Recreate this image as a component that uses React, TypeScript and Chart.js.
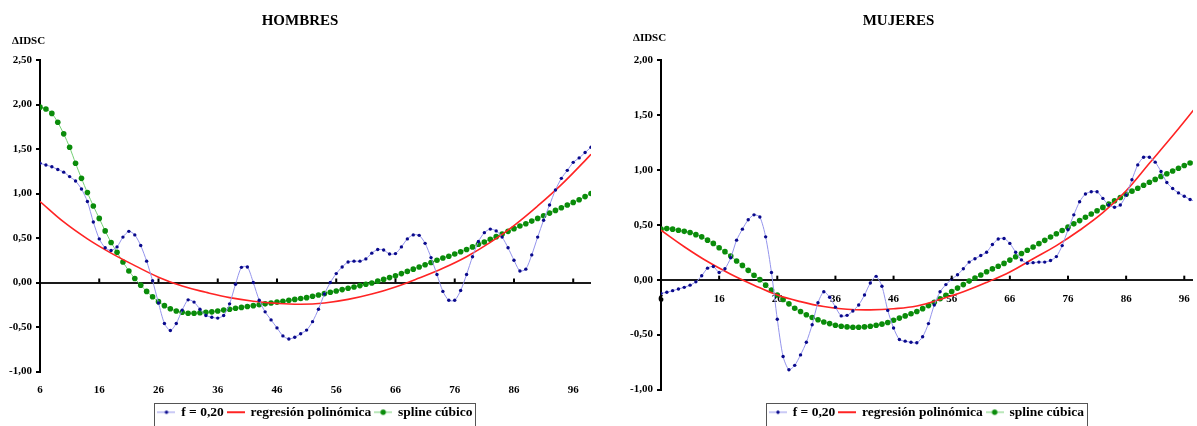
import React, { useEffect, useRef } from 'react';
import { Chart, registerables } from 'chart.js';

Chart.register(...registerables);

const SERIF = "'Liberation Serif', 'Times New Roman', serif";

// ---------- data ----------
const FIRST_AGE = 6;

// HOMBRES
const H_BLUE = [
  1.34, 1.32, 1.30, 1.27, 1.24, 1.19, 1.14, 1.05, 0.91, 0.68,
  0.49, 0.39, 0.36, 0.40, 0.51, 0.575, 0.535, 0.415, 0.24, 0.02,
  -0.23, -0.46, -0.54, -0.46, -0.31, -0.195, -0.22, -0.30, -0.37, -0.39,
  -0.40, -0.37, -0.24, -0.02, 0.17, 0.175, 0.0, -0.20, -0.33, -0.42,
  -0.51, -0.60, -0.635, -0.615, -0.575, -0.535, -0.44, -0.30, -0.13, 0.0,
  0.10, 0.175, 0.23, 0.24, 0.24, 0.265, 0.33, 0.37, 0.365, 0.32,
  0.325, 0.40, 0.49, 0.535, 0.53, 0.44, 0.28, 0.09, -0.10, -0.20,
  -0.20, -0.09, 0.09, 0.29, 0.46, 0.56, 0.60, 0.58, 0.51, 0.39,
  0.25, 0.13, 0.15, 0.31, 0.51, 0.70, 0.87, 1.04, 1.17, 1.26,
  1.35, 1.40, 1.46, 1.52,
];
const H_GREEN = [
  1.97, 1.95, 1.90, 1.80, 1.67, 1.52, 1.34, 1.17, 1.01, 0.86,
  0.72, 0.58, 0.45, 0.34, 0.23, 0.13, 0.045, -0.03, -0.10, -0.16,
  -0.215, -0.26, -0.295, -0.32, -0.335, -0.345, -0.345, -0.34, -0.335, -0.33,
  -0.32, -0.31, -0.30, -0.29, -0.28, -0.27, -0.26, -0.25, -0.24, -0.23,
  -0.22, -0.21, -0.20, -0.19, -0.18, -0.17, -0.155, -0.14, -0.125, -0.11,
  -0.095, -0.08, -0.065, -0.05, -0.035, -0.02, -0.005, 0.015, 0.035, 0.055,
  0.075, 0.10, 0.125, 0.15, 0.175, 0.20, 0.225, 0.25, 0.275, 0.295,
  0.32, 0.345, 0.37, 0.40, 0.43, 0.455, 0.485, 0.515, 0.545, 0.575,
  0.605, 0.635, 0.66, 0.69, 0.72, 0.75, 0.78, 0.81, 0.84, 0.87,
  0.90, 0.93, 0.965, 1.0,
];
const H_RED_AGES = [6, 10, 14, 18, 22, 26, 30, 34, 38, 42, 46, 50, 54, 58, 62, 66, 70, 74, 78, 82, 86, 90, 94, 98, 99];
const H_RED = [0.91, 0.68, 0.49, 0.33, 0.19, 0.06, -0.04, -0.11, -0.17, -0.21, -0.235, -0.245, -0.23, -0.19, -0.13, -0.05, 0.05, 0.16, 0.29, 0.45, 0.64, 0.86, 1.1, 1.37, 1.44];

// MUJERES
const M_BLUE = [
  -0.125, -0.115, -0.10, -0.085, -0.07, -0.05, -0.02, 0.035, 0.105, 0.12,
  0.065, 0.10, 0.20, 0.36, 0.46, 0.545, 0.59, 0.57, 0.39, 0.065,
  -0.36, -0.70, -0.82, -0.78, -0.685, -0.57, -0.41, -0.21, -0.11, -0.16,
  -0.25, -0.33, -0.325, -0.285, -0.23, -0.14, -0.03, 0.03, -0.06, -0.28,
  -0.44, -0.545, -0.56, -0.57, -0.575, -0.52, -0.40, -0.23, -0.11, -0.045,
  0.005, 0.045, 0.10, 0.16, 0.19, 0.22, 0.25, 0.32, 0.37, 0.375,
  0.33, 0.25, 0.18, 0.15, 0.155, 0.16, 0.16, 0.175, 0.21, 0.31,
  0.455, 0.59, 0.71, 0.78, 0.80, 0.80, 0.74, 0.68, 0.66, 0.68,
  0.77, 0.91, 1.045, 1.115, 1.115, 1.07, 0.985, 0.885, 0.83, 0.79,
  0.76, 0.73, 0.71,
];
const M_GREEN = [
  0.46, 0.465, 0.46, 0.45, 0.44, 0.43, 0.41, 0.39, 0.36, 0.33,
  0.29, 0.255, 0.215, 0.17, 0.13, 0.085, 0.04, 0.0, -0.05, -0.095,
  -0.14, -0.18, -0.22, -0.26, -0.29, -0.32, -0.345, -0.365, -0.385, -0.40,
  -0.415, -0.424, -0.43, -0.433, -0.433, -0.43, -0.424, -0.415, -0.405, -0.39,
  -0.37, -0.35, -0.33, -0.31, -0.29, -0.264, -0.236, -0.205, -0.174, -0.142,
  -0.108, -0.077, -0.045, -0.013, 0.015, 0.043, 0.072, 0.098, 0.122, 0.148,
  0.178, 0.208, 0.238, 0.268, 0.298, 0.328, 0.358, 0.388, 0.418, 0.448,
  0.478, 0.508, 0.538, 0.568, 0.598, 0.628, 0.658, 0.688, 0.718, 0.748,
  0.778, 0.806, 0.833, 0.86, 0.887, 0.913, 0.94, 0.965, 0.99, 1.015,
  1.04, 1.062, 1.085,
];
const M_RED_AGES = [6, 10, 14, 18, 22, 26, 30, 34, 38, 42, 46, 50, 54, 58, 62, 66, 70, 74, 78, 82, 86, 90, 94, 98];
const M_RED = [0.45, 0.30, 0.165, 0.05, -0.05, -0.14, -0.20, -0.245, -0.27, -0.275, -0.265, -0.24, -0.18, -0.11, -0.025, 0.07, 0.19, 0.31, 0.45, 0.61, 0.81, 1.06, 1.31, 1.57];

const X_TICKS = [6, 16, 26, 36, 46, 56, 66, 76, 86, 96];
const Y_TICKS_H = [-1, -0.5, 0, 0.5, 1, 1.5, 2, 2.5];
const Y_TICKS_M = [-1, -0.5, 0, 0.5, 1, 1.5, 2];

const LEGEND_H = ['f = 0,20', 'regresión polinómica', 'spline cúbico'];
const LEGEND_M = ['f = 0,20', 'regresión polinómica', 'spline cúbica'];
const TITLE_H = 'HOMBRES';
const TITLE_M = 'MUJERES';
const Y_LABEL = 'ΔIDSC';

// ---------- styles ----------
const BLUE_LINE = '#9494ec';
const BLUE_DOT = '#0a0a8c';
const RED = '#ff2424';
const GREEN_LINE = '#74cf74';
const GREEN_DOT = '#0a8c0a';

type Spec = {
  title: string;
  blue: number[];
  green: number[];
  redAges: number[];
  red: number[];
  legend: string[];
  yTicks: number[];
  yMin: number;
  yMax: number;
  xMax: number;
  yAxisWidth: number;
  padRight: number;
  xAtZero: boolean;
  xLabelOffset: number;
  titleY: number;
  yLabelY: number;
};

const HOMBRES: Spec = {
  title: TITLE_H, blue: H_BLUE, green: H_GREEN, redAges: H_RED_AGES, red: H_RED,
  legend: LEGEND_H, yTicks: Y_TICKS_H, yMin: -1, yMax: 2.5, xMax: 99,
  yAxisWidth: 40, padRight: 9, xAtZero: false, xLabelOffset: 12, titleY: 21, yLabelY: 41,
};
const MUJERES: Spec = {
  title: TITLE_M, blue: M_BLUE, green: M_GREEN, redAges: M_RED_AGES, red: M_RED,
  legend: LEGEND_M, yTicks: Y_TICKS_M, yMin: -1, yMax: 2, xMax: 97.5,
  yAxisWidth: 61, padRight: 0, xAtZero: true, xLabelOffset: 13, titleY: 21, yLabelY: 38,
};

function makeMarker(line: string, lw: number, dot: string | null, r: number) {
  const c = document.createElement('canvas');
  c.width = 18;
  c.height = 8;
  const g = c.getContext('2d')!;
  g.strokeStyle = line;
  g.lineWidth = lw;
  g.beginPath();
  g.moveTo(0, 4);
  g.lineTo(18, 4);
  g.stroke();
  if (dot) {
    g.fillStyle = dot;
    g.beginPath();
    g.arc(9, 4, r, 0, Math.PI * 2);
    g.fill();
  }
  return c;
}

const headerPlugin = {
  id: 'header',
  afterDraw(chart: any, _args: any, opts: any) {
    const { ctx, chartArea } = chart;
    ctx.save();
    ctx.fillStyle = '#000';
    ctx.textBaseline = 'middle';
    ctx.textAlign = 'center';
    ctx.font = `bold 15px ${SERIF}`;
    ctx.fillText(opts.title, chart.width / 2, opts.titleY);
    ctx.textAlign = 'left';
    ctx.font = `bold 11px ${SERIF}`;
    ctx.fillText(opts.yLabel, chartArea.left - 28, opts.yLabelY);

    // small tick marks on the zero line
    const xs = chart.scales.x;
    const ys = chart.scales.y;
    const zy = ys.getPixelForValue(0);
    ctx.strokeStyle = '#000';
    ctx.lineWidth = 2;
    (opts.marks as number[]).forEach((t) => {
      const px = xs.getPixelForValue(t);
      if (px > chartArea.left + 2 && px <= chartArea.right) {
        ctx.beginPath();
        ctx.moveTo(px, zy - 4);
        ctx.lineTo(px, zy);
        ctx.stroke();
      }
    });

    // legend frame
    const lg = chart.legend;
    if (lg && lg.legendHitBoxes && lg.legendHitBoxes.length) {
      const hb = lg.legendHitBoxes;
      const l = Math.min(...hb.map((b: any) => b.left)) - 4;
      const r = Math.max(...hb.map((b: any) => b.left + b.width)) + 3;
      const t = hb[0].top - 3;
      ctx.strokeStyle = '#555';
      ctx.lineWidth = 1;
      ctx.strokeRect(Math.round(l) + 0.5, Math.round(t) + 0.5, Math.round(r - l), 40);
    }
    ctx.restore();
  },
};

function buildConfig(s: Spec): any {
  const markers = [
    makeMarker(BLUE_LINE, 1, BLUE_DOT, 1.7),
    makeMarker(RED, 2, null, 0),
    makeMarker(GREEN_LINE, 1, GREEN_DOT, 2.7),
  ];
  const fmt = (v: any) => Number(v).toFixed(2).replace('.', ',');
  const tickFont = { family: SERIF, weight: 'bold', size: 11 };
  return {
    type: 'line',
    data: {
      datasets: [
        {
          label: s.legend[0],
          data: s.blue.map((v, i) => ({ x: FIRST_AGE + i, y: v })),
          borderColor: BLUE_LINE,
          borderWidth: 1,
          pointRadius: 1.7,
          pointBackgroundColor: BLUE_DOT,
          pointBorderWidth: 0,
          tension: 0.25,
        },
        {
          label: s.legend[1],
          data: s.redAges.map((a, i) => ({ x: a, y: s.red[i] })),
          borderColor: RED,
          borderWidth: 1.6,
          pointRadius: 0,
          tension: 0.4,
        },
        {
          label: s.legend[2],
          data: s.green.map((v, i) => ({ x: FIRST_AGE + i, y: v })),
          borderColor: GREEN_LINE,
          borderWidth: 1,
          pointRadius: 2.8,
          pointBackgroundColor: GREEN_DOT,
          pointBorderWidth: 0,
          tension: 0.25,
        },
      ],
    },
    options: {
      responsive: false,
      animation: false,
      devicePixelRatio: 1,
      events: [],
      layout: { padding: { top: 60, left: 0, right: s.padRight, bottom: 0 } },
      scales: {
        x: {
          type: 'linear',
          min: FIRST_AGE,
          max: s.xMax,
          position: s.xAtZero ? { y: 0 } : 'bottom',
          afterBuildTicks: (sc: any) => {
            sc.ticks = X_TICKS.map((v) => ({ value: v }));
          },
          afterFit: (sc: any) => {
            if (!s.xAtZero) sc.height = 30;
          },
          grid: {
            display: true,
            drawOnChartArea: false,
            color: 'rgba(0,0,0,0)',
            tickColor: 'rgba(0,0,0,0)',
            tickLength: s.xLabelOffset,
          },
          border: { display: false },
          ticks: {
            padding: 0,
            autoSkip: false,
            maxRotation: 0,
            minRotation: 0,
            color: '#000',
            font: tickFont,
            callback: (v: any) => String(v),
          },
        },
        y: {
          type: 'linear',
          min: s.yMin,
          max: s.yMax,
          afterBuildTicks: (sc: any) => {
            sc.ticks = s.yTicks.map((v) => ({ value: v }));
          },
          afterFit: (sc: any) => {
            sc.width = s.yAxisWidth;
          },
          grid: {
            drawOnChartArea: true,
            color: (c: any) => (c.tick && c.tick.value === 0 ? '#1a1a1a' : 'rgba(0,0,0,0)'),
            lineWidth: 2,
            tickColor: '#000',
            tickLength: 4,
            tickWidth: 2,
          },
          border: { display: true, color: '#000', width: 2 },
          ticks: {
            padding: 4,
            color: '#000',
            font: tickFont,
            callback: (v: any) => fmt(v),
          },
        },
      },
      plugins: {
        tooltip: { enabled: false },
        title: { display: false },
        header: { title: s.title, titleY: s.titleY, yLabel: Y_LABEL, yLabelY: s.yLabelY, marks: X_TICKS },
        legend: {
          display: true,
          position: 'bottom',
          fullSize: false,
          title: s.xAtZero
            ? { display: true, text: '', padding: { top: 11, bottom: 0 }, font: { size: 1, lineHeight: 1 } }
            : { display: false },
          labels: {
            usePointStyle: true,
            pointStyleWidth: 16,
            padding: 4,
            color: '#000',
            font: { family: SERIF, weight: 'bold', size: 13.5 },
            generateLabels: () =>
              s.legend.map((t, i) => ({
                text: t,
                pointStyle: markers[i],
                fillStyle: 'rgba(0,0,0,0)',
                strokeStyle: 'rgba(0,0,0,0)',
                lineWidth: 0,
                hidden: false,
                datasetIndex: i,
                fontColor: '#000',
              })),
          },
        },
      },
    },
    plugins: [headerPlugin],
  };
}

function Panel({ spec, left, width }: { spec: Spec; left: number; width: number }) {
  const ref = useRef<HTMLCanvasElement>(null);
  useEffect(() => {
    const chart = new Chart(ref.current as HTMLCanvasElement, buildConfig(spec));
    return () => chart.destroy();
  }, [spec]);
  return (
    <canvas
      ref={ref}
      width={width}
      height={429}
      style={{ position: 'absolute', left, top: 0, width, height: 429 }}
    />
  );
}

export default function App() {
  return (
    <div
      style={{
        position: 'fixed',
        left: 0,
        top: 0,
        width: 1197,
        height: 426,
        overflow: 'hidden',
        background: '#fff',
      }}
    >
      <Panel spec={HOMBRES} left={0} width={600} />
      <Panel spec={MUJERES} left={600} width={597} />
    </div>
  );
}
